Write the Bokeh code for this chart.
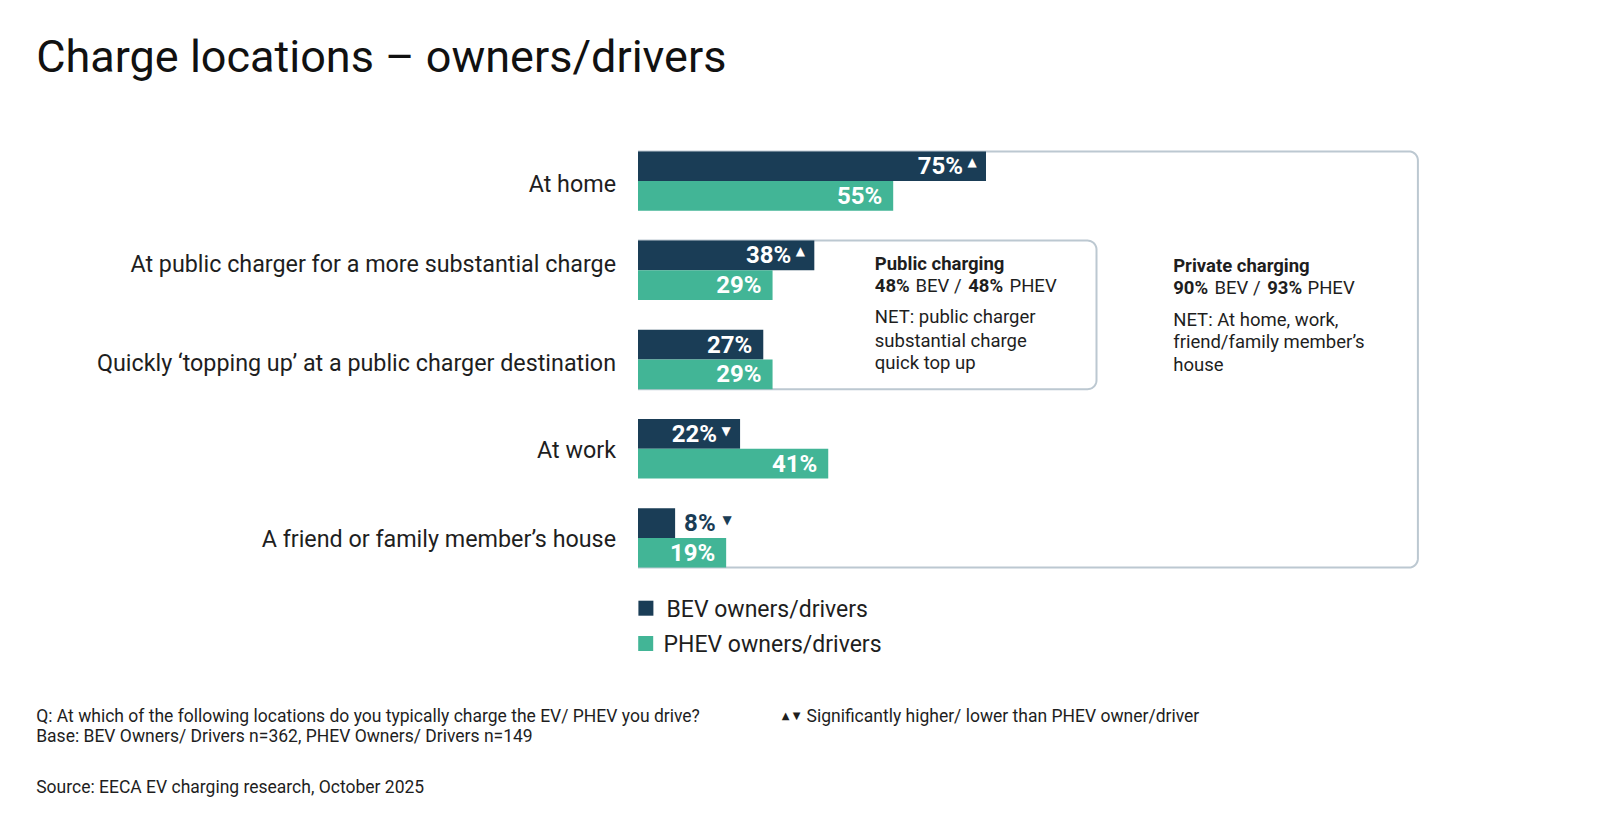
import numpy as np
from bokeh.plotting import figure
from bokeh.models import Range1d, ColumnDataSource
from bokeh.embed import file_html
from bokeh.resources import INLINE
from bokeh.core.properties import value

# ---------------- data ----------------
categories = [
    "At home",
    "At public charger for a more substantial charge",
    "Quickly \u2018topping up\u2019 at a public charger destination",
    "At work",
    "A friend or family member\u2019s house",
]
bev = [75, 38, 27, 22, 8]
phev = [55, 29, 29, 41, 19]
bev_sig = ["up", "up", "", "down", "down"]
series_names = ["BEV owners/drivers", "PHEV owners/drivers"]
public_net = [48, 48]    # BEV, PHEV
private_net = [90, 93]   # BEV, PHEV

title = "Charge locations \u2013 owners/drivers"
footer_q = "Q: At which of the following locations do you typically charge the EV/ PHEV you drive?"
footer_base = "Base: BEV Owners/ Drivers n=362, PHEV Owners/ Drivers n=149"
footer_src = "Source: EECA EV charging research, October 2025"
sig_note = "Significantly higher/ lower than PHEV owner/driver"

# ---------------- style ----------------
BEV_C = "#1a3d56"
PHEV_C = "#42b596"
BOX_C = "#bcc8d1"
TXT_C = "#1e1e1e"
FONT = "Roboto"

W, H = 1584, 812
X0, SX = 637.5, 4.64     # page px of 0 %, px per %
Y0, SY = 180.6, 89.2     # page px of first group boundary, px per group
LABEL_DY = [3, -6, 3, 1, 1]  # small vertical nudges of category labels (px)


def X(px):
    return (px - X0) / SX


def Y(py):
    return (py - Y0) / SY


BH = 29.7 / SY  # bar height in group units

p = figure(width=W, height=H,
           x_range=Range1d(X(0), X(W)),
           y_range=Range1d(Y(H), Y(0)),
           x_axis_type=None, y_axis_type=None,
           output_backend="svg", toolbar_location=None, min_border=0)
p.grid.visible = False
p.outline_line_color = None
p.background_fill_color = "white"
p.border_fill_color = "white"


def rounded_path(left, right, top, bottom, r_px):
    rx, ry = r_px / SX, r_px / SY
    xs, ys = [left], [top]
    for t in np.radians(np.linspace(90, 0, 12)):
        xs.append(right - rx + rx * np.cos(t))
        ys.append(top + ry - ry * np.sin(t))
    for t in np.radians(np.linspace(0, -90, 12)):
        xs.append(right - rx + rx * np.cos(t))
        ys.append(bottom - ry - ry * np.sin(t))
    xs.append(left)
    ys.append(bottom)
    return xs, ys


# group boxes (open on left, behind bars)
ox, oy = rounded_path(0, X(1417.4), 0 - BH, (len(categories) - 1) + BH, 9)
p.line(ox, oy, line_color=BOX_C, line_width=2)
ix, iy = rounded_path(0, X(1096), 1 - BH, 2 + BH, 9)
p.line(ix, iy, line_color=BOX_C, line_width=2)

# bars
idx = np.arange(len(categories))
p.hbar(y=idx - BH / 2, height=BH, left=0, right=bev, fill_color=BEV_C, line_color=None)
p.hbar(y=idx + BH / 2, height=BH, left=0, right=phev, fill_color=PHEV_C, line_color=None)

# value labels
lab = dict(x=[], y=[], text=[], align=[], xo=[], color=[])
tri = dict(x=[], y=[], text=[], xo=[], yo=[], color=[])
for series, vals, off, col, sig in ((0, bev, -BH / 2, BEV_C, bev_sig),
                                    (1, phev, BH / 2, PHEV_C, [""] * len(phev))):
    for i, v in enumerate(vals):
        inside = v >= 12
        s = sig[i]
        lab["x"].append(v)
        lab["y"].append(i + off)
        lab["text"].append(f"{v}%")
        if inside:
            lab["align"].append("right")
            lab["xo"].append(-23 if s else -11)
            lab["color"].append("white")
        else:
            lab["align"].append("left")
            lab["xo"].append(9)
            lab["color"].append(col)
        if s:
            tri["x"].append(v)
            tri["y"].append(i + off)
            tri["text"].append("\u25b2" if s == "up" else "\u25bc")
            tri["xo"].append(-14 if inside else 52)
            tri["yo"].append(-4 if s == "up" else -3)
            tri["color"].append("white" if inside else col)

p.text(x="x", y="y", text="text", source=ColumnDataSource(lab),
       text_align="align", x_offset="xo", text_color="color",
       text_baseline="middle", text_font=value(FONT), text_font_style="bold",
       text_font_size="24px")
p.text(x="x", y="y", text="text", source=ColumnDataSource(tri),
       x_offset="xo", y_offset="yo", text_color="color",
       text_align="center", text_baseline="middle",
       text_font=value("DejaVu Sans"), text_font_size="12px")

# category labels
p.text(x=[0] * len(categories), y=idx, text=categories, x_offset=-22, y_offset=LABEL_DY,
       text_align="right", text_baseline="middle", text_color=TXT_C,
       text_font=value(FONT), text_font_size="23.3px")

# title
p.text(x=[X(35.7)], y=[Y(56)], text=[title], text_align="left",
       text_baseline="alphabetic", text_color="#111111",
       text_font=value(FONT), text_font_size="45px")

# legend
p.scatter(x=[X(645.4), X(645.2)], y=[Y(607.7), Y(643)], marker="square",
          size=15, fill_color=[BEV_C, PHEV_C], line_color=None)
p.text(x=[X(666), X(663)], y=[Y(609), Y(644)], text=series_names,
       text_align="left", text_baseline="middle", text_color=TXT_C,
       text_font=value(FONT), text_font_size="23px")

# annotation: public charging
AN = "18.5px"
p.text(x=[X(874.3)], y=[Y(263.3)], text=["Public charging"], text_baseline="middle",
       text_color=TXT_C, text_font=value(FONT), text_font_style="bold", text_font_size=AN)
p.text(x=[X(874.3), X(967.7)], y=[Y(285.7)] * 2,
       text=[f"{public_net[0]}%", f"{public_net[1]}%"], text_baseline="middle",
       text_color=TXT_C, text_font=value(FONT), text_font_style="bold", text_font_size=AN)
p.text(x=[X(915), X(1009)], y=[Y(285.7)] * 2, text=["BEV /", "PHEV"],
       text_baseline="middle", text_color=TXT_C, text_font=value(FONT), text_font_size=AN)
p.text(x=[X(874.3)] * 3, y=[Y(316.7), Y(340), Y(362.7)],
       text=["NET: public charger", "substantial charge", "quick top up"],
       text_baseline="middle", text_color=TXT_C, text_font=value(FONT), text_font_size=AN)

# annotation: private charging
p.text(x=[X(1172.7)], y=[Y(265)], text=["Private charging"], text_baseline="middle",
       text_color=TXT_C, text_font=value(FONT), text_font_style="bold", text_font_size=AN)
p.text(x=[X(1172.7), X(1266.7)], y=[Y(287.5)] * 2,
       text=[f"{private_net[0]}%", f"{private_net[1]}%"], text_baseline="middle",
       text_color=TXT_C, text_font=value(FONT), text_font_style="bold", text_font_size=AN)
p.text(x=[X(1214), X(1307)], y=[Y(287.5)] * 2, text=["BEV /", "PHEV"],
       text_baseline="middle", text_color=TXT_C, text_font=value(FONT), text_font_size=AN)
p.text(x=[X(1172.7)] * 3, y=[Y(319), Y(341.7), Y(364)],
       text=["NET: At home, work,", "friend/family member\u2019s", "house"],
       text_baseline="middle", text_color=TXT_C, text_font=value(FONT), text_font_size=AN)

# footer
FT = "17.5px"
p.text(x=[X(35.7)] * 3, y=[Y(715.3), Y(735.7), Y(786.7)],
       text=[footer_q, footer_base, footer_src], text_baseline="middle",
       text_color=TXT_C, text_font=value(FONT), text_font_size=FT)
p.text(x=[X(785), X(796)], y=[Y(714.5)] * 2, text=["\u25b2", "\u25bc"],
       text_align="center", text_baseline="middle", text_color=TXT_C,
       text_font=value("DejaVu Sans"), text_font_size="10px")
p.text(x=[X(806)], y=[Y(715.3)], text=[sig_note], text_baseline="middle",
       text_color=TXT_C, text_font=value(FONT), text_font_size=FT)

open("out.html", "w").write(file_html(p, INLINE, "Charge locations"))
